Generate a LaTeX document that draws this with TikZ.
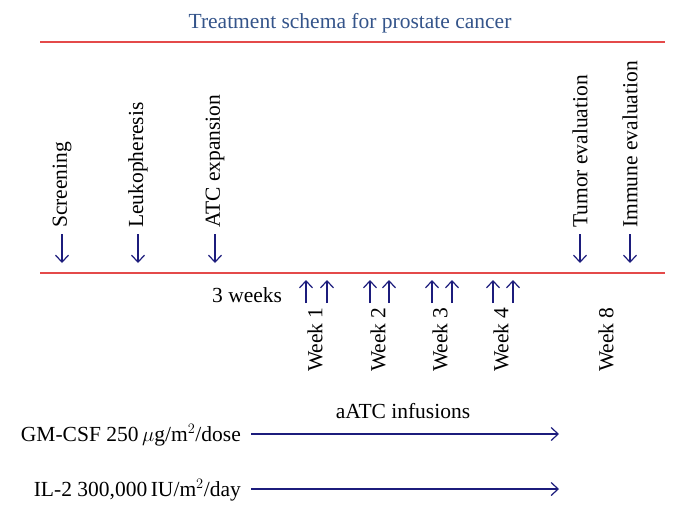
\documentclass[tikz,border=0pt]{standalone}
\usepackage{fontspec}
\setmainfont{Liberation Serif}
\usepackage{tikz}
\usetikzlibrary{arrows.meta, positioning}
\definecolor{titleBlue}{HTML}{34548A}
\definecolor{ruleRed}{HTML}{E44A4A}
\definecolor{arrNavy}{HTML}{1C1C7C}
\newcommand{\labfont}{\fontsize{21.5}{25}\selectfont}

\begin{document}
\begin{tikzpicture}[x=1pt, y=-1pt,
  rule/.style={ruleRed, line width=1.8pt},
  tick/.style={-{Straight Barb[length=7pt,width=13pt]}, arrNavy, line width=1.2pt},
  event/.style={rotate=90, anchor=west, inner sep=0pt, font=\labfont},
  plain/.style={inner sep=0pt, font=\labfont},
]
  \useasboundingbox (0,0) rectangle (674,509);

  % title and the two rules
  \node[plain, anchor=base, text=titleBlue] (title) at (350,28) {Treatment schema for prostate cancer};
  \coordinate (tl) at (40,42);  \coordinate (tr) at (665,42);
  \coordinate (bl) at (40,273); \coordinate (br) at (665,273);
  \draw[rule] (tl) -- (tr);
  \draw[rule] (bl) -- (br);

  % events above the time line
  \node[event] (scr) at (62,228) {Screening};
  \node[event] (leuk) at (138,228) {Leukopheresis};
  \node[event] (atc) at (215,228) {ATC expansion};
  \node[event] (tumor) at (580,228) {Tumor evaluation};
  \node[event] (immune) at (630,228) {Immune evaluation};
  \draw[tick, shorten <=6pt, shorten >=10pt] (scr.west) -- (scr.west |- bl);
  \draw[tick, shorten <=6pt, shorten >=10pt] (leuk.west) -- (leuk.west |- bl);
  \draw[tick, shorten <=6pt, shorten >=10pt] (atc.west) -- (atc.west |- bl);
  \draw[tick, shorten <=6pt, shorten >=10pt] (tumor.west) -- (tumor.west |- bl);
  \draw[tick, shorten <=6pt, shorten >=10pt] (immune.west) -- (immune.west |- bl);

  % infusions below the time line
  \node[plain, anchor=base west] (wait) at (212,302) {3 weeks};
  \coordinate (w1a) at (306,303); \coordinate (w1b) at (327,303);
  \coordinate (w2a) at (370,303); \coordinate (w2b) at (389,303);
  \coordinate (w3a) at (432,303); \coordinate (w3b) at (452,303);
  \coordinate (w4a) at (493,303); \coordinate (w4b) at (513,303);
  \draw[tick, shorten >=7pt] (w1a) -- (w1a |- bl);
  \draw[tick, shorten >=7pt] (w1b) -- (w1b |- bl);
  \draw[tick, shorten >=7pt] (w2a) -- (w2a |- bl);
  \draw[tick, shorten >=7pt] (w2b) -- (w2b |- bl);
  \draw[tick, shorten >=7pt] (w3a) -- (w3a |- bl);
  \draw[tick, shorten >=7pt] (w3b) -- (w3b |- bl);
  \draw[tick, shorten >=7pt] (w4a) -- (w4a |- bl);
  \draw[tick, shorten >=7pt] (w4b) -- (w4b |- bl);

  \node[event] (week1) at (315,372) {Week 1};
  \node[event] (week2) at (378,372) {Week 2};
  \node[event] (week3) at (440,372) {Week 3};
  \node[event] (week4) at (501,372) {Week 4};
  \node[event] (week8) at (606,372) {Week 8};

  % cytokines
  \node[plain, anchor=base] (infus) at (403,418) {aATC infusions};
  \node[plain, anchor=base east] (gmcsf) at (241,441) {GM-CSF 250\,$\mu$g/m$^2$/dose};
  \node[plain, anchor=base east] (il2) at (241,496) {IL-2 300,000\,IU/m$^2$/day};
  \coordinate (gmS) at (251,434); \coordinate (gmE) at (559,434);
  \coordinate (ilS) at (251,489); \coordinate (ilE) at (559,489);
  \draw[tick] (gmS) -- (gmE);
  \draw[tick] (ilS) -- (ilE);
\end{tikzpicture}
\end{document}
